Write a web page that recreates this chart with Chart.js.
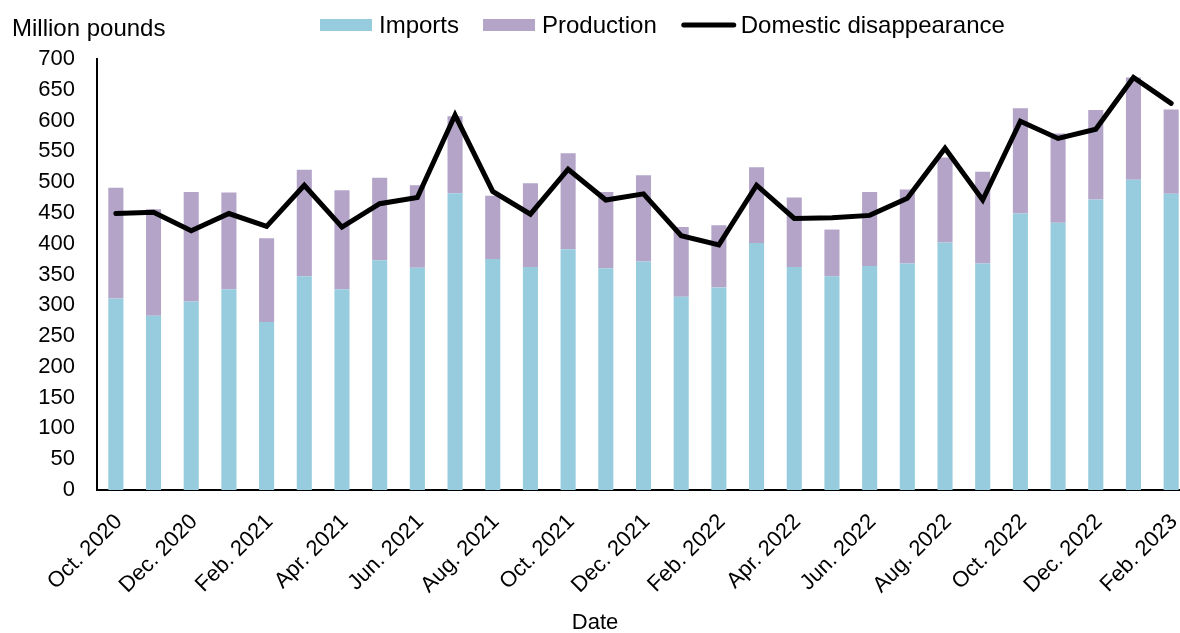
<!DOCTYPE html>
<html>
<head>
<meta charset="utf-8">
<script src="https://cdn.jsdelivr.net/npm/chart.js@4.4.1/dist/chart.umd.min.js"></script>
<style>
  html, body { margin: 0; padding: 0; background: #fff; overflow: hidden; }
  #wrap { width: 1190px; height: 633px; }
</style>
</head>
<body>
<div id="wrap"><canvas id="c" width="1190" height="633"></canvas></div>
<script>
// Monthly supply and use, million pounds
const months = [
  'Oct. 2020', 'Nov. 2020', 'Dec. 2020', 'Jan. 2021', 'Feb. 2021', 'Mar. 2021',
  'Apr. 2021', 'May 2021', 'Jun. 2021', 'Jul. 2021', 'Aug. 2021', 'Sep. 2021',
  'Oct. 2021', 'Nov. 2021', 'Dec. 2021', 'Jan. 2022', 'Feb. 2022', 'Mar. 2022',
  'Apr. 2022', 'May 2022', 'Jun. 2022', 'Jul. 2022', 'Aug. 2022', 'Sep. 2022',
  'Oct. 2022', 'Nov. 2022', 'Dec. 2022', 'Jan. 2023', 'Feb. 2023'
];
const imports = [311, 283, 306, 326, 273, 347, 326, 373, 361, 482, 375, 362, 391, 360, 371,
                 314, 329, 401, 362, 347, 364, 368, 402, 368, 449, 434, 472, 504, 481];
const production = [180, 173, 178, 157, 136, 173, 161, 134, 134, 125, 103, 136, 156, 124, 140,
                    113, 101, 123, 113, 76, 120, 120, 138, 149, 171, 145, 145, 166, 137];
const disappearance = [449, 451, 421, 449, 428, 495, 427, 465, 475, 609, 485, 448, 521, 471, 481,
                       413, 398, 495, 441, 442, 446, 474, 555, 471, 599, 571, 586, 670, 628];
const yTicks = { min: 0, max: 700, step: 50 };

const FONT = '"Liberation Sans", Arial, sans-serif';
const TICK_SIZE = 22;
const KEY_SIZE = 24;

// Legend row drawn across the top, plus the axis captions
const captions = {
  id: 'captions',
  afterDraw(chart) {
    const ctx = chart.ctx;
    ctx.save();
    ctx.fillStyle = '#000';
    ctx.textBaseline = 'middle';
    ctx.font = '24px ' + FONT;
    ctx.textAlign = 'left';
    ctx.fillText('Million pounds', 12, 29);
    ctx.font = '22px ' + FONT;
    ctx.textAlign = 'center';
    ctx.fillText('Date', 595, 623);

    // legend
    ctx.font = KEY_SIZE + 'px ' + FONT;
    let x = 320;
    const cy = 26;
    chart.data.datasets.forEach((ds) => {
      if (ds.type === 'line') {
        ctx.strokeStyle = ds.borderColor;
        ctx.lineWidth = 5;
        ctx.lineCap = 'round';
        ctx.beginPath();
        ctx.moveTo(x + 3, cy - 1);
        ctx.lineTo(x + 53, cy - 1);
        ctx.stroke();
        x += 60;
      } else {
        ctx.fillStyle = ds.backgroundColor;
        ctx.fillRect(x, cy - 7, 52, 12);
        x += 59;
      }
      ctx.fillStyle = '#000';
      ctx.textAlign = 'left';
      ctx.fillText(ds.label, x, cy);
      x += ctx.measureText(ds.label).width + 24;
    });
    ctx.restore();
  }
};

new Chart(document.getElementById('c'), {
  data: {
    labels: months,
    datasets: [
      {
        type: 'bar', label: 'Imports', data: imports, stack: 'supply',
        backgroundColor: '#96CCDD', barPercentage: 0.4, categoryPercentage: 1, order: 2
      },
      {
        type: 'bar', label: 'Production', data: production, stack: 'supply',
        backgroundColor: '#B3A4C8', barPercentage: 0.4, categoryPercentage: 1, order: 2
      },
      {
        type: 'line', label: 'Domestic disappearance', data: disappearance, stack: 'use',
        borderColor: '#000', backgroundColor: '#000', borderWidth: 5,
        pointRadius: 0, borderCapStyle: 'round', borderJoinStyle: 'miter', tension: 0, order: 1
      }
    ]
  },
  options: {
    responsive: false,
    animation: false,
    layout: { padding: { top: 59, left: 0, right: 0, bottom: 0 } },
    plugins: {
      legend: { display: false },
      tooltip: { enabled: false },
      title: { display: false }
    },
    scales: {
      x: {
        stacked: true,
        grid: { display: false, drawTicks: false },
        border: { display: true, color: '#000', width: 2 },
        ticks: {
          autoSkip: false, minRotation: 45, maxRotation: 45, padding: 19, labelOffset: 3,
          color: '#000', font: { family: FONT, size: TICK_SIZE },
          callback: (v, i) => (i % 2 === 0 ? months[i] : '')
        },
        afterFit(scale) {
          scale.height = 143;
          scale.paddingLeft = 0;
          scale.paddingRight = 0;
        }
      },
      y: {
        stacked: true,
        min: yTicks.min, max: yTicks.max,
        grid: { display: false, drawTicks: false },
        border: { display: true, color: '#000', width: 2 },
        ticks: {
          stepSize: yTicks.step, padding: 22,
          color: '#000', font: { family: FONT, size: TICK_SIZE }
        },
        afterFit(scale) { scale.width = 97; }
      }
    }
  },
  plugins: [captions]
});
</script>
</body>
</html>
